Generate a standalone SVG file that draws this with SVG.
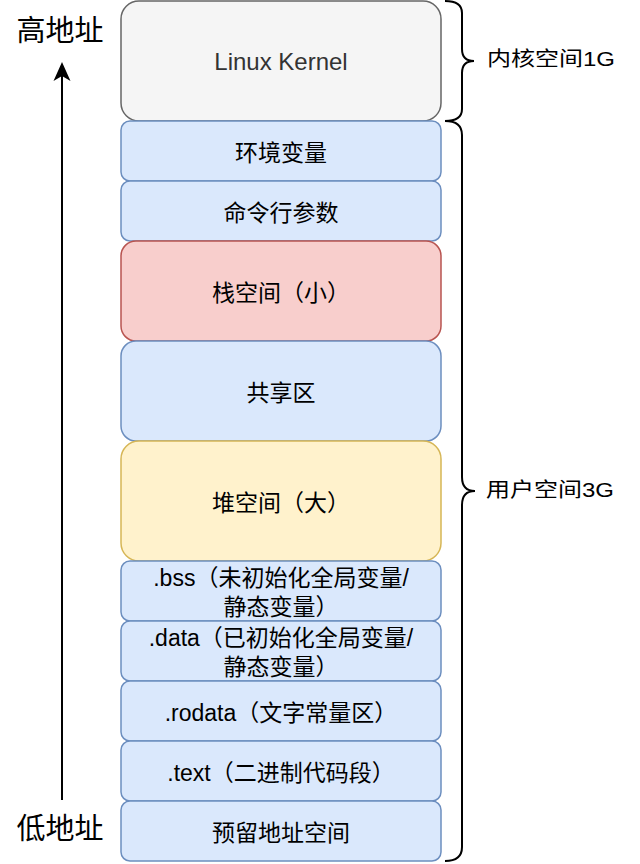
<svg xmlns="http://www.w3.org/2000/svg" width="640" height="864" viewBox="0 0 640 864">
  <style>
    .box { stroke-width: 1.5; }
    .gray { fill: #f5f5f5; stroke: #666666; }
    .blue { fill: #dae8fc; stroke: #6c8ebf; }
    .red { fill: #f8cecc; stroke: #b85450; }
    .yellow { fill: #fff2cc; stroke: #d6b656; }
    .lbl { font-family: "Liberation Sans", "Noto Sans CJK SC", sans-serif; font-size: 23px; fill: #000000; text-anchor: middle; dominant-baseline: central; }
    .kernel { font-family: "Liberation Sans", "Noto Sans CJK SC", sans-serif; font-size: 24px; fill: #333333; text-anchor: middle; dominant-baseline: central; }
    .side { font-family: "Liberation Sans", "Noto Sans CJK SC", sans-serif; font-size: 20px; fill: #000000; dominant-baseline: central; }
    .addr { font-family: "Liberation Sans", "Noto Sans CJK SC", sans-serif; font-size: 29px; fill: #000000; text-anchor: middle; dominant-baseline: central; }
    .brace { fill: none; stroke: #000000; stroke-width: 2; }
    .conn { fill: none; stroke: #000000; stroke-width: 2; }
  </style>
  <defs>
    <marker id="arrowhead" viewBox="0 0 20 20" refX="15" refY="10" markerWidth="20" markerHeight="20" markerUnits="userSpaceOnUse" orient="auto">
      <path d="M0,1.5 L19,10 L0,18.5 L5,10 Z" fill="#000000" stroke="none"/>
    </marker>
  </defs>

  <rect width="640" height="864" fill="#ffffff"/>

  <g id="node-kernel">
    <rect class="box gray" x="121" y="1" width="320" height="120" rx="18" ry="18"/>
    <text class="kernel" x="281" y="61">Linux Kernel</text>
  </g>
  <g id="node-env">
    <rect class="box blue" x="121" y="121" width="320" height="60" rx="9" ry="9"/>
    <text class="lbl" x="281" y="153">环境变量</text>
  </g>
  <g id="node-args">
    <rect class="box blue" x="121" y="181" width="320" height="60" rx="9" ry="9"/>
    <text class="lbl" x="281" y="213">命令行参数</text>
  </g>
  <g id="node-stack">
    <rect class="box red" x="121" y="241" width="320" height="100" rx="15" ry="15"/>
    <text class="lbl" x="281" y="293">栈空间（小）</text>
  </g>
  <g id="node-shared">
    <rect class="box blue" x="121" y="341" width="320" height="100" rx="15" ry="15"/>
    <text class="lbl" x="281" y="393">共享区</text>
  </g>
  <g id="node-heap">
    <rect class="box yellow" x="121" y="441" width="320" height="120" rx="18" ry="18"/>
    <text class="lbl" x="281" y="503">堆空间（大）</text>
  </g>
  <g id="node-bss">
    <rect class="box blue" x="121" y="561" width="320" height="60" rx="9" ry="9"/>
    <text class="lbl" x="281" y="577.5">.bss（未初始化全局变量/</text>
    <text class="lbl" x="281" y="606.5">静态变量）</text>
  </g>
  <g id="node-data">
    <rect class="box blue" x="121" y="621" width="320" height="60" rx="9" ry="9"/>
    <text class="lbl" x="281" y="637.5">.data（已初始化全局变量/</text>
    <text class="lbl" x="281" y="666.5">静态变量）</text>
  </g>
  <g id="node-rodata">
    <rect class="box blue" x="121" y="681" width="320" height="60" rx="9" ry="9"/>
    <text class="lbl" x="281" y="713">.rodata（文字常量区）</text>
  </g>
  <g id="node-text">
    <rect class="box blue" x="121" y="741" width="320" height="60" rx="9" ry="9"/>
    <text class="lbl" x="281" y="773">.text（二进制代码段）</text>
  </g>
  <g id="node-reserved">
    <rect class="box blue" x="121" y="801" width="320" height="60" rx="9" ry="9"/>
    <text class="lbl" x="281" y="833">预留地址空间</text>
  </g>

  <g id="node-kernel-brace">
    <path class="brace" d="M445,1 Q462,1 462,13 L462,49 Q462,61 474,61 Q462,61 462,73 L462,109 Q462,121 445,121"/>
    <text class="side" transform="translate(487,59) scale(1.2,1)" x="0" y="0">内核空间1G</text>
  </g>
  <g id="node-user-brace">
    <path class="brace" d="M445,121 Q462,121 462,135 L462,477 Q462,491 475,491 Q462,491 462,505 L462,847 Q462,861 445,861"/>
    <text class="side" transform="translate(486,490) scale(1.2,1)" x="0" y="0">用户空间3G</text>
  </g>

  <g id="node-high">
    <text class="addr" x="60" y="31">高地址</text>
  </g>
  <g id="node-low">
    <text class="addr" x="60" y="829">低地址</text>
  </g>

  <g id="connectors">
    <line class="conn" x1="62" y1="800" x2="62" y2="66" marker-end="url(#arrowhead)"/>
  </g>
</svg>
